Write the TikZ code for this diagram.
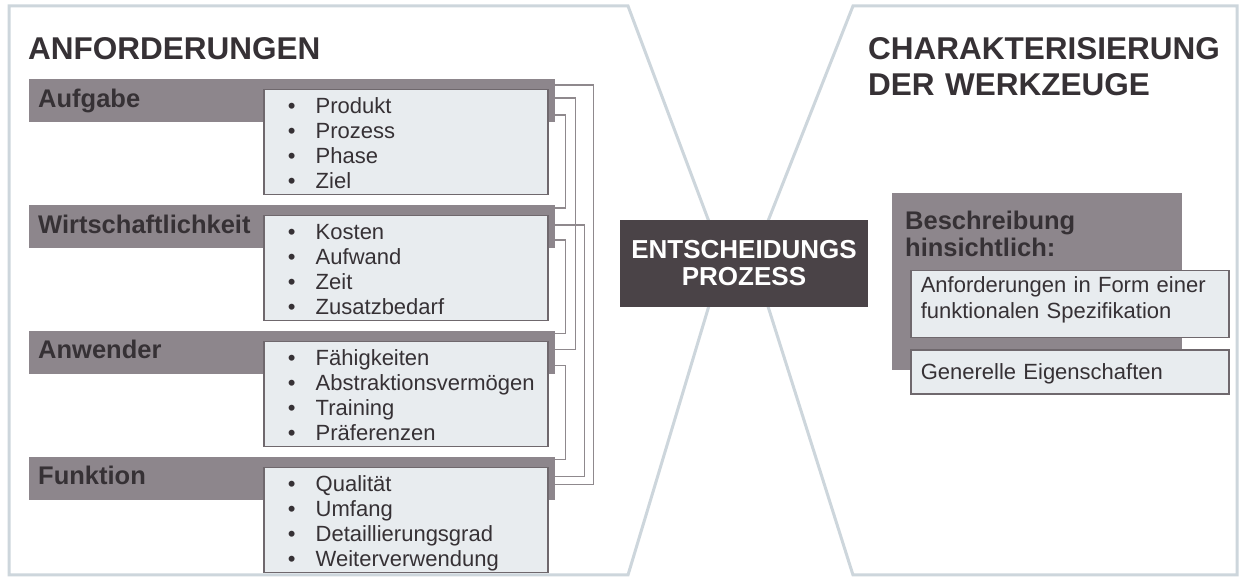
\documentclass[tikz,border=0pt]{standalone}
\usepackage{fontspec}
\setmainfont{Liberation Sans}
\usetikzlibrary{positioning}
\definecolor{panelx}{HTML}{CDD6DC}
\definecolor{catgray}{HTML}{8D868C}
\definecolor{ink}{HTML}{363135}
\definecolor{listfill}{HTML}{E8ECEF}
\definecolor{listline}{HTML}{6F686D}
\definecolor{linkgray}{HTML}{8F898D}
\definecolor{darkproz}{HTML}{4A4347}
\newcommand{\pkt}[1]{\hspace*{24pt}\makebox[28pt][l]{\textbullet}#1}

\begin{document}
\begin{tikzpicture}[x=1pt, y=1pt,
  panel/.style={draw=panelx, line width=3pt, line join=miter},
  head/.style={font=\bfseries\fontsize{31.5}{36}\selectfont, text=ink, inner sep=0pt, anchor=base west, align=left},
  cat/.style={fill=catgray, anchor=north west, minimum width=526pt, minimum height=43pt, font=\bfseries\fontsize{25.5}{27}\selectfont, text=ink, align=left, text width=508pt, inner xsep=9pt, inner ysep=0pt, text height=28pt, text depth=15pt},
  liste/.style={draw=listline, line width=1.5pt, fill=listfill, anchor=north west, font=\fontsize{22}{25}\selectfont, text=ink, align=left, text width=284pt, inner sep=0pt, text height=24pt, text depth=81pt},
  spec/.style={draw=listline, line width=1.5pt, fill=listfill, anchor=north west, font=\fontsize{22}{26}\selectfont, text=ink, align=left, text width=298pt, inner xsep=10pt, inner ysep=0pt},
  link/.style={draw=linkgray, line width=1.4pt},
  proz/.style={fill=darkproz, text=white, font=\bfseries\fontsize{26}{27}\selectfont, align=center, minimum width=248pt, minimum height=87pt}]

  \fill[white] (0,0) rectangle (1245,580);
  \useasboundingbox (0,0) rectangle (1245,580);

  \draw[panel] (9,574) -- (628,574) -- (723,321) -- (628,5) -- (9,5) -- cycle;
  \draw[panel] (853,574) -- (1237,574) -- (1237,5) -- (853,5) -- (753,321) -- cycle;

  \node[head] (tanf) at (28,520) {ANFORDERUNGEN};
  \node[head, text width=370pt] (tchar) at (868,520) {CHARAKTERISIERUNG\\DER WERKZEUGE};

  \node[cat] (aufg) at (29,501) {Aufgabe};
  \node[cat, below=82.5pt of aufg] (wirt) {Wirtschaftlichkeit};
  \node[cat, below=82.5pt of wirt] (anw) {Anwender};
  \node[cat, below=82.5pt of anw] (funk) {Funktion};

  \node[liste] (laufg) at ([xshift=234pt,yshift=-10pt]aufg.north west) {\pkt{Produkt}\\\pkt{Prozess}\\\pkt{Phase}\\\pkt{Ziel}};
  \node[liste] (lwirt) at ([xshift=234pt,yshift=-10pt]wirt.north west) {\pkt{Kosten}\\\pkt{Aufwand}\\\pkt{Zeit}\\\pkt{Zusatzbedarf}};
  \node[liste] (lanw) at ([xshift=234pt,yshift=-10pt]anw.north west) {\pkt{Fähigkeiten}\\\pkt{Abstraktionsvermögen}\\\pkt{Training}\\\pkt{Präferenzen}};
  \node[liste] (lfunk) at ([xshift=234pt,yshift=-10pt]funk.north west) {\pkt{Qualität}\\\pkt{Umfang}\\\pkt{Detaillierungsgrad}\\\pkt{Weiterverwendung}};

  \draw[link] ([yshift=-6pt]aufg.north east) -- ++(38,0) |- ([yshift=-28pt]funk.north east);
  \draw[link] ([yshift=-19pt]aufg.north east) -- ++(20,0) |- ([yshift=-19pt]anw.north east);
  \draw[link] ([yshift=-36pt]aufg.north east) -- ++(10,0) |- ([yshift=-3pt]wirt.north east);
  \draw[link] ([yshift=-20pt]wirt.north east) -- ++(29,0) |- ([yshift=-20pt]funk.north east);
  \draw[link] ([yshift=-35pt]wirt.north east) -- ++(10,0) |- ([yshift=-3pt]anw.north east);
  \draw[link] ([yshift=-35pt]anw.north east) -- ++(10,0) |- ([yshift=-3pt]funk.north east);

  \node[proz] (proz) at (744,316.5) {ENTSCHEIDUNGS\\PROZESS};

  \node[cat, minimum width=290pt, minimum height=177pt, text width=264pt, inner xsep=13pt, text height=36pt, text depth=141pt] (beschr) at (892,387) {Beschreibung\\hinsichtlich:};
  \node[spec, text height=22pt, text depth=45pt] (spez) at ([xshift=18pt,yshift=-77pt]beschr.north west) {Anforderungen in Form einer\\funktionalen Spezifikation};
  \node[spec, text height=29pt, text depth=15pt, below=11pt of spez] (eig) {Generelle Eigenschaften};
\end{tikzpicture}
\end{document}
